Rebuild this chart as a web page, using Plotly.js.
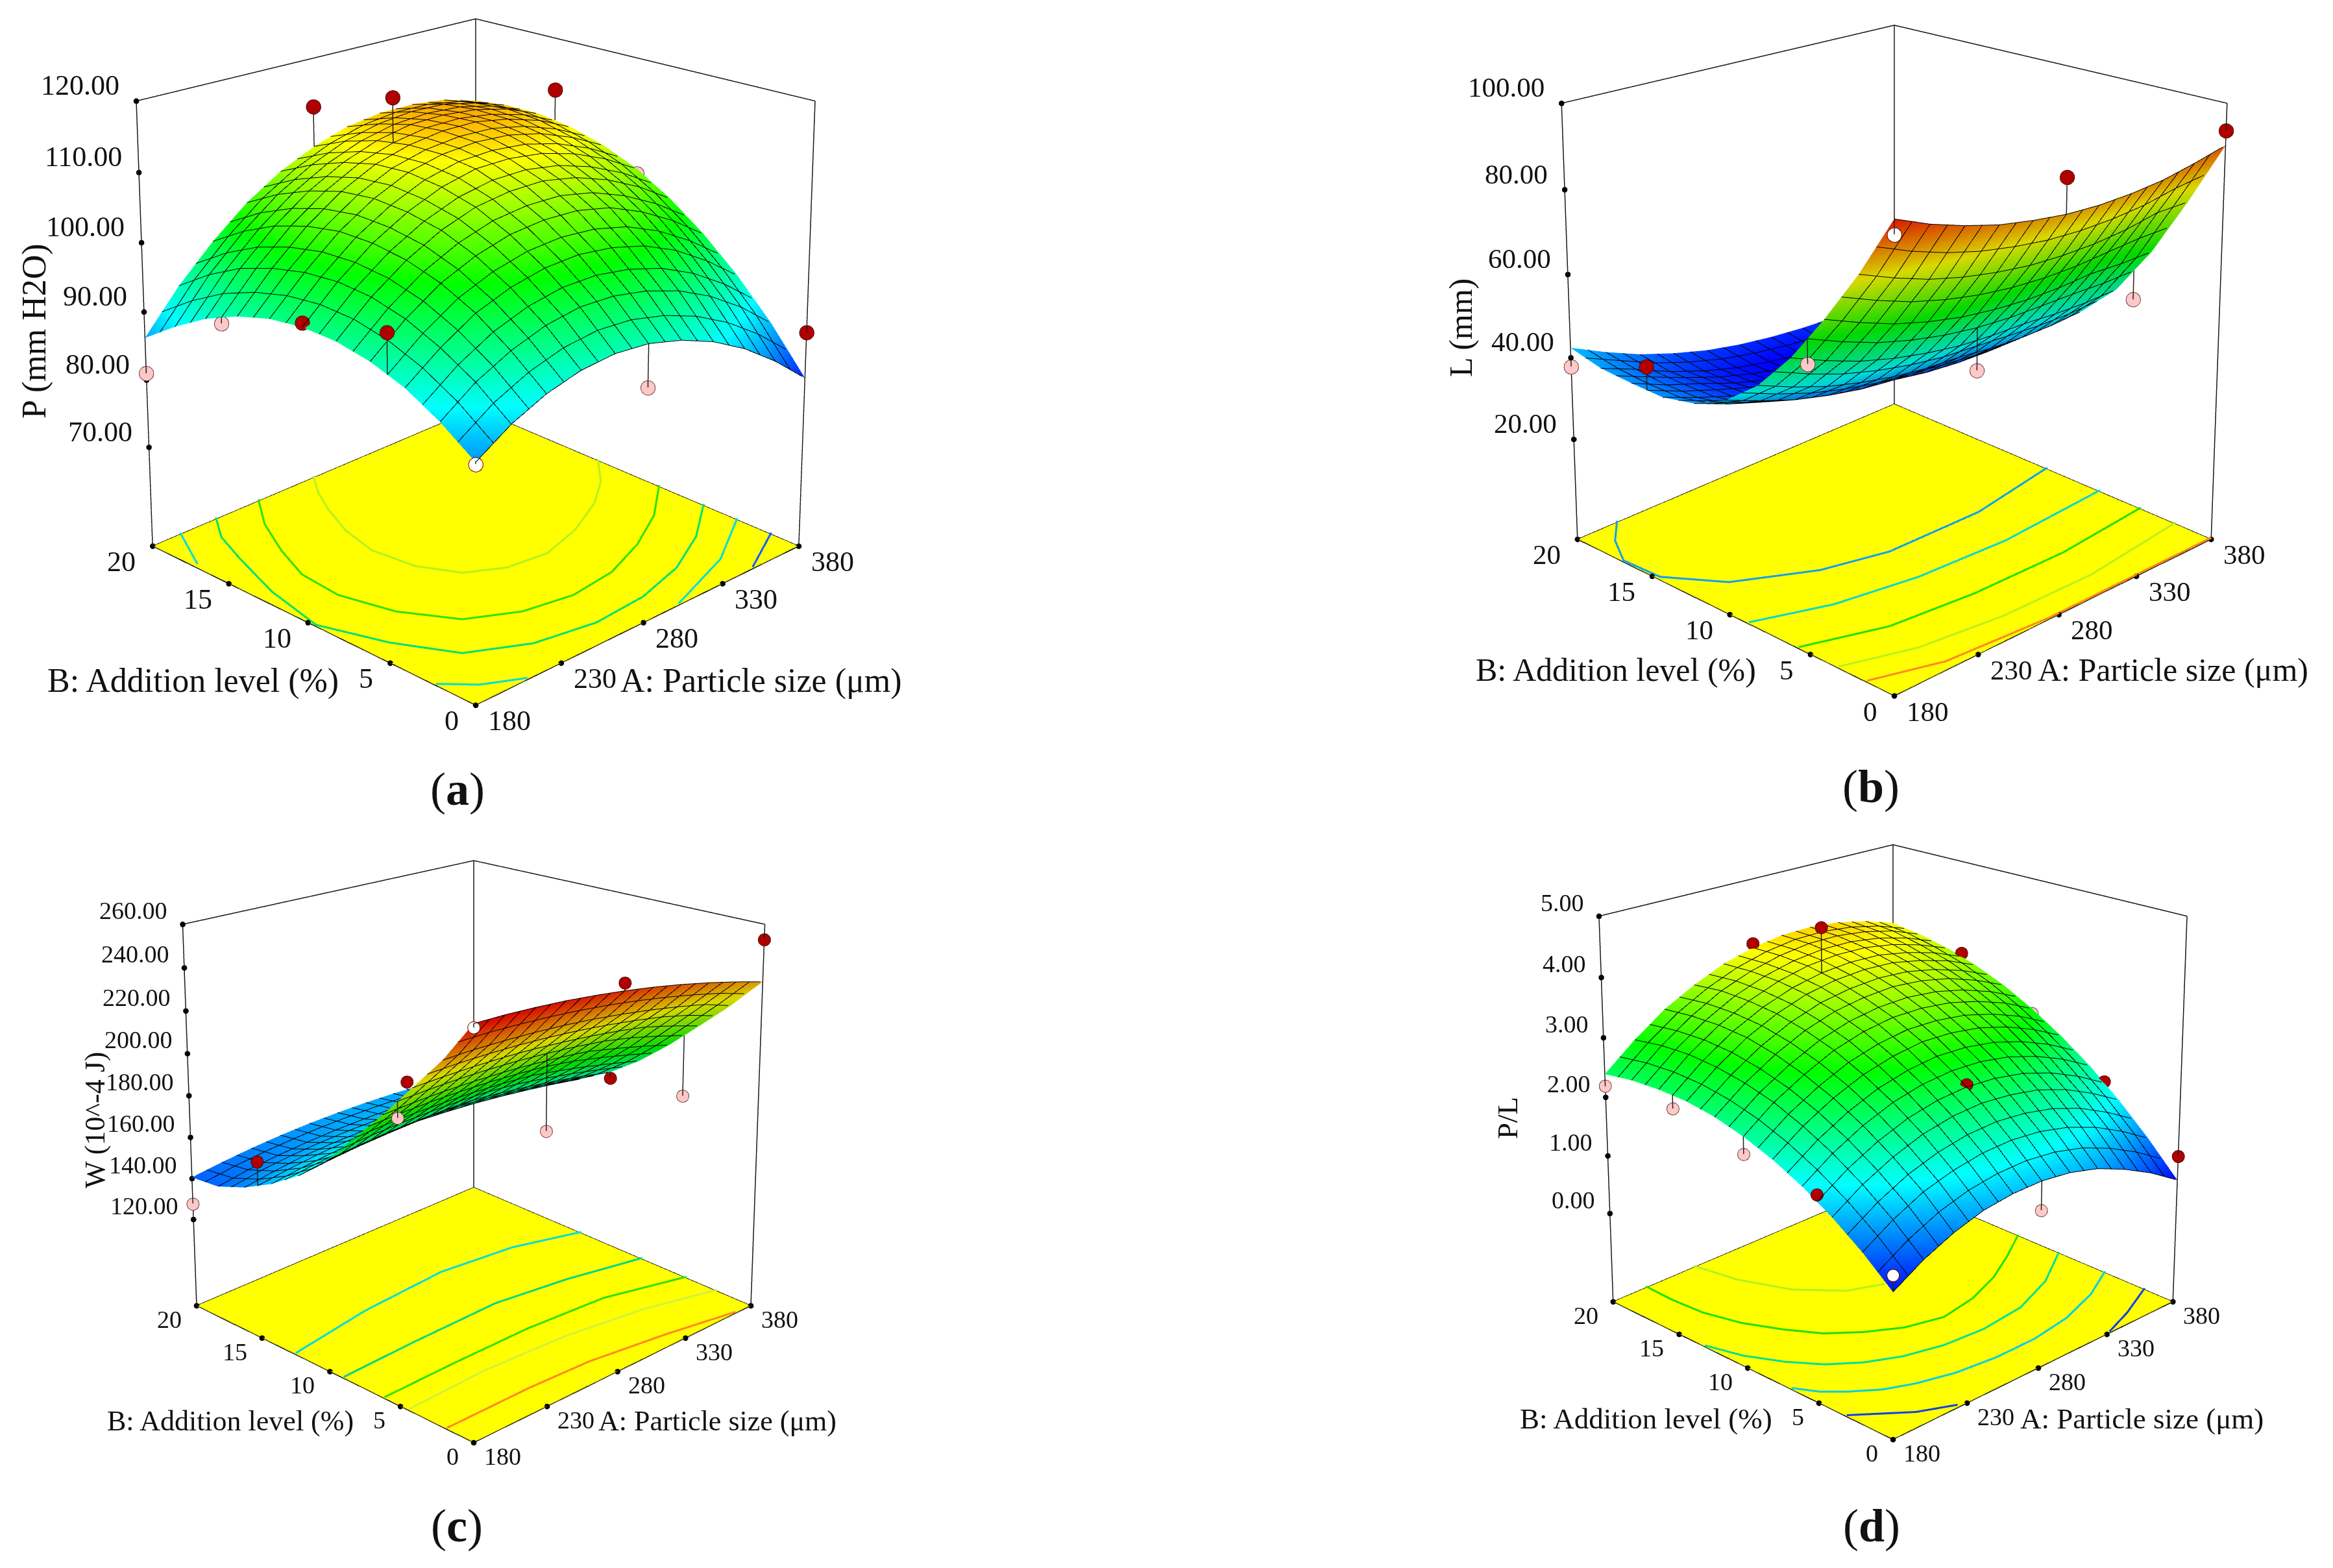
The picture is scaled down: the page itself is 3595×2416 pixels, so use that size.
<!DOCTYPE html>
<html>
<head>
<meta charset="utf-8">
<script src="https://cdn.plot.ly/plotly-3.0.1.min.js"></script>
<style>
html,body{margin:0;padding:0;background:#fff;overflow:hidden;width:3595px;height:2416px}
#chart{position:absolute;left:0;top:-2070px}
</style>
</head>
<body>
<div id="chart"></div>
<script>
// factor levels shared by the four response surfaces
var aValues = [180,200,220,240,260,280,300,320,340,360,380];
var bValues = [0,2,4,6,8,10,12,14,16,18,20];
var aTicks = [180,230,280,330,380];
var bTicks = [0,5,10,15,20];

// (a) P (mm H2O), one row per B level; heights as read through this camera, colour values as read from the shading
var zGridP = [
 [89.2,92.3,94.4,95.6,95.9,95.3,93.8,91.6,88.6,84.8,80.3],
 [92.6,96,98.3,99.8,100.4,100,98.8,96.9,94.2,90.7,86.4],
 [95.2,98.7,101.5,103.1,103.9,103.9,103,101.4,98.9,95.5,91.5],
 [96.8,100.7,103.7,105.6,106.7,106.9,106.4,105,102.6,99.5,95.7],
 [97.6,101.8,105,107.3,108.7,109.1,108.8,107.5,105.4,102.6,99.1],
 [97.6,102,105.5,108,109.7,110.5,110.2,109.2,107.4,104.9,101.7],
 [96.8,101.4,105.3,108.1,110,110.8,110.8,110.1,108.6,106.3,103.4],
 [95.2,100.1,104.2,107.3,109.4,110.4,110.7,110.3,109,107.1,104.4],
 [92.9,98.2,102.4,105.6,107.9,109.3,109.9,109.6,108.7,107.1,104.7],
 [89.8,95.4,99.8,103.3,105.8,107.5,108.3,108.4,107.8,106.3,104.3],
 [86.2,91.9,96.5,100.3,103.1,105,106.2,106.5,106.1,105.1,103.3]
];
var colorGridP = [
 [85.3,88.4,90.7,92.2,92.9,92.8,91.9,90.2,87.7,84.4,80.3],
 [88.7,92.1,94.7,96.6,97.6,97.8,97.2,95.8,93.7,90.7,86.9],
 [91.4,95.1,98.1,100.2,101.5,102.1,101.8,100.8,98.9,96.2,92.8],
 [93.3,97.4,100.7,103.1,104.8,105.6,105.7,105,103.4,101.1,97.9],
 [94.5,98.9,102.5,105.3,107.3,108.4,108.8,108.4,107.2,105.2,102.3],
 [95,99.7,103.6,106.7,109,110.5,111.2,111.1,110.2,108.5,106],
 [94.7,99.7,104,107.4,110,111.8,112.8,113.1,112.5,111.1,108.9],
 [93.7,99,103.6,107.3,110.3,112.4,113.7,114.3,114,113,111.1],
 [91.9,97.6,102.4,106.5,109.8,112.2,113.9,114.7,114.8,114.1,112.5],
 [89.4,95.4,100.6,105,108.5,111.3,113.3,114.5,114.9,114.4,113.2],
 [86.2,92.5,98,102.7,106.6,109.7,112,113.5,114.2,114.1,113.2]
];
var zTicksP = [70,80,90,100,110,120];
var levelsP = [
 {a:[276,266,258,249,244,247,257,274,296,321,346,364,380], b:[20,18.6,17.1,15,12.8,10.4,8.5,7.5,7.2,7.9,9.1,10.4,12.1], color:'#b4f020'},
 {a:[242.5,228,216,207,205,212,227,250,276,303,330,356,380], b:[20,18,15.6,13.3,10.8,8,5.5,4.2,3.7,4,5,6.4,8.3], color:'#30e000'},
 {a:[217,206,198,187,180,191,206,233,265,296,326,354,380], b:[20,18.4,16.3,13,9.5,6.2,3.4,1.9,1.3,1.5,2.3,3.7,5.6], color:'#00e070'},
 {a:[196,181.5], b:[20,17.2], color:'#00dcdc'},
 {a:[180,192,210], b:[2.3,1,0], color:'#00dcdc'},
 {a:[380,345.5,302], b:[3.6,1.5,0], color:'#00dcdc'},
 {a:[380,349.5], b:[1.6,0], color:'#1060ff'}
];
var pointsAP = [180,180,280,280,380,380, 180,180,280,380, 180];
var pointsBP = [5,10,20,15,15,0, 15,20,0,10, 0];
var pointsZP = [101.8,98.2,110.8,116.3,109.1,87, 93.2,81,89.1,101, 88.9];
var surfaceZP = [96,97.6,105,109.9,104.6,80.3, 94.1,86.2,95.3,101.7, 89.2];
var redCountP = 6, pinkCountP = 4;

// (b) L (mm)
var zGridL = [
 [102.8,98.7,95.4,92.6,90.6,89,88.1,87.8,88,89,90.3],
 [87.8,83.9,80.5,77.9,75.9,74.4,73.6,73.3,73.6,74.6,74.2],
 [74.7,70.8,67.3,64.6,62.5,61.1,60.2,59.9,60.1,59.5,59.3],
 [62.8,58.9,55.5,52.9,50.9,49.4,48.6,48.2,47.4,47,47.1],
 [53.2,49.5,46.3,43.9,42,40.7,40.1,39,38.4,38.3,38.7],
 [46.4,42.9,39.8,37.5,35.7,34.6,33.1,32.2,31.8,32,32.4],
 [42.3,38.8,35.9,33.7,32,30.1,28.9,28.1,27.9,28.1,28.6],
 [40.4,37,34,31.7,29.3,27.4,26.2,25.4,25.1,25.2,25.8],
 [40.4,36.7,33.7,30.5,28,26.1,24.7,23.8,23.5,23.5,23.9],
 [40.7,37.2,33.3,30.2,27.7,25.9,24.5,23.6,23.2,23.2,23.5],
 [42.4,38.1,34.3,31.3,28.8,27,25.7,24.8,24.3,24.3,24.5]
];
var colorGridL = [
 [93,90,87.6,85.7,84.5,83.7,83.5,83.9,84.8,86.4,88.4],
 [80,77,74.5,72.6,71.3,70.5,70.3,70.6,71.5,73,75],
 [68.5,65.4,62.7,60.7,59.2,58.3,57.9,58.1,58.8,60.2,62],
 [58,54.8,52.1,50,48.5,47.5,47.1,47.2,47.9,49.2,51],
 [49.5,46.4,43.8,41.8,40.4,39.5,39.2,39.4,40.2,41.6,43.5],
 [43.5,40.5,37.9,36,34.6,33.8,33.5,33.8,34.6,36.1,38],
 [40,37,34.5,32.6,31.3,30.5,30.3,30.6,31.5,33,35],
 [38.5,35.5,32.9,31,29.6,28.8,28.5,28.8,29.6,31,33],
 [38.8,35.6,32.9,30.9,29.4,28.4,28,28.1,28.9,30.2,32],
 [39.5,36.4,33.7,31.7,30.2,29.3,28.9,29.1,29.8,31.2,33],
 [41.5,38.5,35.9,34,32.6,31.8,31.5,31.8,32.6,34.1,36]
];
var zTicksL = [20,40,60,80,100];
var levelsL = [
 {a:[203.5,190,180,181,199,235,269,325,380], b:[20,18.6,16.9,14.6,12.1,10.1,9.2,9.1,10], color:'#10a0f0'},
 {a:[180,217,261,313,380], b:[8.8,7.4,6.6,6.3,6.7], color:'#00d8d0'},
 {a:[180,220,267.5,323,380], b:[5.7,4.3,3.8,3.7,4.2], color:'#20e000'},
 {a:[180,215.5,261.5,316,380], b:[3.3,2.1,1.5,1.4,2.1], color:'#b8f020'},
 {a:[180,215,274,324,380], b:[1.6,0.45,0,0,0], color:'#ff8820'}
];
var pointsAL = [380,280,180, 380,280,180,180, 180];
var pointsBL = [0,0,15, 5,5,5,20, 0];
var pointsZL = [93.7,97.3,46, 46.2,45.1,63,37.8, 99.4];
var surfaceZL = [90.3,89,40.4, 53.2,55.3,68.8,42.4, 102.8];
var redCountL = 3, pinkCountL = 4;

// (c) W (10^-4 J)
var zGridW = [
 [265.7,264.3,262.4,260.2,257.5,254.5,251.1,247.3,243.1,238.5,233.6],
 [244.7,244,242.7,241.1,239.1,236.7,233.8,230.6,227,223,217.4],
 [227.2,226.7,225.9,224.7,223.1,221,218.6,215.8,212.5,207.8,202.7],
 [209.7,209.7,209.3,208.4,207.2,205.5,203.5,201,197.1,192.9,188.3],
 [193.5,193.9,193.8,193.3,192.5,191.2,189.5,186.5,183.1,179.3,175.3],
 [177.4,178.4,178.9,179,178.7,178,176,173.6,170.9,167.8,164.4],
 [164.6,166,167,167.5,167.7,166.6,165.2,163.3,161.1,158.6,155.7],
 [154.9,156.7,158,158.9,158.7,158,157,155.5,153.7,151.5,149],
 [147.4,149.5,151.1,151.7,151.8,151.5,150.8,149.8,148.3,146.5,144.4],
 [142,144.3,145.5,146.3,146.7,146.6,146.2,145.3,144.1,142.6,140.6],
 [140.6,142.2,143.4,144.1,144.4,144.2,143.7,142.8,141.5,139.9,137.9]
];
var colorGridW = [
 [255,254.5,253.6,252.3,250.6,248.5,246,243.1,239.8,236.1,232],
 [236,236,235.6,234.8,233.6,232,230,227.6,224.8,221.6,218],
 [220,220.3,220.2,219.7,218.8,217.5,215.8,213.7,211.2,208.3,205],
 [204,204.6,204.8,204.6,204,203,201.6,199.8,197.6,195,192],
 [189,189.9,190.4,190.5,190.2,189.5,188.4,186.9,185,182.7,180],
 [174,175.4,176.4,177,177.2,177,176.4,175.4,174,172.2,170],
 [162,163.8,165.2,166.2,166.8,167,166.8,166.2,165.2,163.8,162],
 [153,155.1,156.8,158.1,159,159.5,159.6,159.3,158.6,157.5,156],
 [146,148.4,150.4,152,153.2,154,154.4,154.4,154,153.2,152],
 [141,143.6,145.8,147.6,149,150,150.6,150.8,150.6,150,149],
 [140,142.5,144.6,146.3,147.6,148.5,149,149.1,148.8,148.1,147]
];
var zTicksW = [120,140,160,180,200,220,240,260];
var levelsW = [
 {a:[180,236,294,341,380], b:[12.5,13.4,13.8,13.2,11.9], color:'#00dcdc'},
 {a:[180,230.5,288.6,334,380], b:[9,9.2,9.3,8.6,7.5], color:'#00d880'},
 {a:[180,227,280,332,380], b:[6.1,6.2,6.2,5.8,4.4], color:'#30e000'},
 {a:[180,233,287,338,380], b:[4.4,4.6,4.3,3.5,2.3], color:'#d0f040'},
 {a:[180,237,277,325.5,368], b:[1.8,1.8,1.6,0.85,0], color:'#ff8820'}
];
var pointsAW = [380,280,180,330,380, 180,280,180,280,380, 180];
var pointsBW = [0,0,15,20,10, 20,20,5,5,5, 0];
var pointsZW = [253,258,162.6,146,161.4, 127.6,140,211,177,166.2, 264];
var surfaceZW = [233.6,254.5,151.2,142.2,164.4, 140.6,144.2,218.5,213,195.5, 265.7];
var redCountW = 5, pinkCountW = 5;

// (d) P/L
var zGridR = [
 [0.88,1.18,1.4,1.55,1.61,1.61,1.54,1.4,1.18,0.91,0.58],
 [1.3,1.61,1.85,1.99,2.07,2.08,2.02,1.89,1.69,1.42,1.1],
 [1.65,1.97,2.21,2.38,2.47,2.49,2.43,2.32,2.13,1.87,1.56],
 [1.94,2.27,2.52,2.7,2.8,2.83,2.79,2.68,2.5,2.26,1.96],
 [2.17,2.51,2.77,2.96,3.07,3.12,3.08,2.98,2.81,2.58,2.29],
 [2.34,2.7,2.96,3.17,3.29,3.34,3.31,3.22,3.06,2.85,2.57],
 [2.46,2.82,3.1,3.31,3.44,3.49,3.49,3.41,3.27,3.06,2.8],
 [2.52,2.89,3.19,3.4,3.54,3.6,3.6,3.54,3.4,3.22,2.97],
 [2.52,2.91,3.21,3.43,3.58,3.66,3.67,3.62,3.5,3.32,3.09],
 [2.48,2.87,3.18,3.42,3.57,3.66,3.69,3.65,3.55,3.39,3.16],
 [2.39,2.78,3.11,3.34,3.52,3.62,3.66,3.63,3.54,3.39,3.19]
];
var colorGridR = [
 [0.63,0.92,1.15,1.32,1.41,1.44,1.4,1.3,1.12,0.88,0.58],
 [1.03,1.34,1.59,1.76,1.87,1.92,1.9,1.81,1.65,1.42,1.13],
 [1.38,1.71,1.97,2.16,2.29,2.35,2.34,2.27,2.13,1.92,1.64],
 [1.68,2.02,2.3,2.51,2.65,2.73,2.74,2.68,2.55,2.36,2.1],
 [1.93,2.29,2.58,2.81,2.97,3.06,3.08,3.04,2.93,2.75,2.5],
 [2.13,2.51,2.81,3.06,3.23,3.34,3.37,3.35,3.25,3.09,2.86],
 [2.28,2.67,3,3.25,3.44,3.56,3.62,3.61,3.53,3.38,3.17],
 [2.38,2.79,3.13,3.4,3.61,3.74,3.81,3.82,3.75,3.62,3.42],
 [2.43,2.86,3.21,3.5,3.72,3.87,3.96,3.98,3.93,3.81,3.63],
 [2.43,2.87,3.24,3.55,3.78,3.95,4.05,4.09,4.06,3.96,3.79],
 [2.39,2.84,3.23,3.54,3.8,3.98,4.1,4.15,4.13,4.05,3.9]
];
var zTicksR = [0,1,2,3,4,5];
var levelsR = [
 {a:[235,240,252,271,290], b:[20,17.3,14.5,12.4,11.6], color:'#b4f020'},
 {a:[202,201.5,203,209,219,230,245,263,285,310,335,358,380], b:[20,17.9,15.8,13.6,11.6,9.9,8.6,7.5,6.9,7.3,8.2,9.4,10.7], color:'#20e000'},
 {a:[180,186,196,208,223,241,263.5,290,319.5,350,380], b:[13.1,11,9.1,7.5,6.3,5.4,4.8,4.6,4.9,6,7.8], color:'#00e090'},
 {a:[180,187,197,210,225.6,247,272.5,300,328,356,380], b:[6.9,5.7,4.7,3.7,3,2.4,2.1,2.1,2.5,3.4,4.6], color:'#00d0e0'},
 {a:[180,205.5,224.5], b:[3.1,1,0.1], color:'#1040e8'},
 {a:[332,353.6,380], b:[0,0.74,1.9], color:'#1040e8'}
];
var pointsAR = [280,280,380,380,280,180,380, 180,180,180,280,380, 180];
var pointsBR = [15,20,15,5,5,5,0, 15,10,20,0,10, 0];
var pointsZR = [4.39,3.69,3.09,1.78,2.7,1.91,0.99, 2.3,2.05,2.19,1.12,2.49, 1.15];
var surfaceZR = [3.63,3.62,3.03,1.76,2.66,1.8,0.58, 2.52,2.34,2.39,1.61,2.57, 0.88];
var redCountR = 7, pinkCountR = 5;

var pageW = 3595, offsetY = 2070, plotH = 6020;
var rainbow = [[0,'#0000ff'],[0.25,'#00ffff'],[0.5,'#00ff00'],[0.75,'#ffff00'],[1,'#ff0000']];
var serif = 'Liberation Serif, Times New Roman, serif';

var panels = [
 {id:'scene', grid:zGridP, colors:colorGridP, ticks:zTicksP, range:[55,120], topBack:115.6, extra:0, unit:10.4, cmin:79, cmax:122, levels:levelsP, pa:pointsAP, pb:pointsBP, pz:pointsZP, sz:surfaceZP, nr:redCountP, np:pinkCountP,
  cx:733, cy:507, H:5130, W:1400, tick:44, mark:13, off:24, mesh:3,
  ztitle:'P (mm H2O)', letter:'a', zt:[53,510], bt:[297,1049], at:[1173,1049], lt:[705,1216], titleSize:52},
 {id:'scene2', grid:zGridL, colors:colorGridL, ticks:zTicksL, range:[-5,100], topBack:92.1, extra:4, unit:6.31, cmin:29, cmax:95, levels:levelsL, pa:pointsAL, pb:pointsBL, pz:pointsZL, sz:surfaceZL, nr:redCountL, np:pinkCountL,
  cx:2919, cy:503, H:5035, W:1350, tick:43, mark:13, off:24, mesh:3,
  ztitle:'L (mm)', letter:'b', zt:[2251,505], bt:[2490,1032], at:[3348,1032], lt:[2883,1212], titleSize:50},
 {id:'scene3', grid:zGridW, colors:colorGridW, ticks:zTicksW, range:[77,260], topBack:244, extra:7, unit:3.16, cmin:128, cmax:255, levels:levelsW, pa:pointsAW, pb:pointsBW, pz:pointsZW, sz:surfaceZW, nr:redCountW, np:pinkCountW,
  cx:730, cy:1725, H:4404, W:1400, tick:38, mark:11, off:21, mesh:2,
  ztitle:'W (10^-4 J)', letter:'c', zt:[146,1726], bt:[355,2189], at:[1105,2189], lt:[704,2351], titleSize:44},
 {id:'scene4', grid:zGridR, colors:colorGridR, ticks:zTicksR, range:[-1.56,5], topBack:4.56, extra:0, unit:89.8, cmin:0.55, cmax:5.1, levels:levelsR, pa:pointsAR, pb:pointsBR, pz:pointsZR, sz:surfaceZR, nr:redCountR, np:pinkCountR,
  cx:2917, cy:1716, H:4444, W:1350, tick:38, mark:11, off:21, mesh:3,
  ztitle:'P/L', letter:'d', zt:[2323,1723], bt:[2536,2186], at:[3300,2186], lt:[2884,2351], titleSize:45}
];

var data = [];
var layout = {width:pageW, height:plotH, margin:{l:0,r:0,t:0,b:0}, paper_bgcolor:'rgba(0,0,0,0)', plot_bgcolor:'rgba(0,0,0,0)', showlegend:false, annotations:[]};

function pageText(text, xy, size, angle) {
  layout.annotations.push({xref:'paper', yref:'paper', x:xy[0]/pageW, y:1-(xy[1]+offsetY)/plotH, text:text, showarrow:false,
    xanchor:'center', yanchor:'middle', textangle:angle || 0, font:{family:serif, size:size, color:'#111'}});
}

panels.forEach(function(p) {
  var zLo = p.range[0], zHi = p.range[1], pad = (zHi-zLo)*0.005;
  // yellow floor
  data.push({type:'surface', scene:p.id, x:[180,380], y:[0,20], z:[[zLo,zLo],[zLo,zLo]], surfacecolor:[[0,0],[0,0]], cmin:0, cmax:1, showscale:false,
    colorscale:[[0,'#ffff00'],[1,'#ffff00']], lighting:{ambient:1,diffuse:0,specular:0,fresnel:0}});
  // response surface with the mesh
  data.push({type:'surface', scene:p.id, x:aValues, y:bValues, z:p.grid, surfacecolor:p.colors, cmin:p.cmin, cmax:p.cmax, showscale:false, colorscale:rainbow,
    lighting:{ambient:0.85,diffuse:0.25,specular:0,roughness:1,fresnel:0},
    contours:{x:{show:true,start:180,end:380,size:10,color:'#000',width:p.mesh}, y:{show:true,start:0,end:20,size:1,color:'#000',width:p.mesh}}});
  // contour lines on the floor
  p.levels.forEach(function(l) {
    data.push({type:'scatter3d', scene:p.id, mode:'lines', x:l.a, y:l.b, z:l.a.map(function(){return zLo+pad*0.8}), line:{color:l.color,width:6}});
  });
  // box frame
  data.push({type:'scatter3d', scene:p.id, mode:'lines',
    x:[180,380,380,180,180,null,180,180,380,380,380,null,380,380],
    y:[0,0,20,20,0,null,20,20,20,0,0,null,20,20],
    z:[zLo,zLo,zLo,zLo,zLo,null,zLo,zHi,p.topBack,zHi,zLo,null,zLo,p.topBack], line:{color:'#1a1a1a',width:3}});
  // tick dots
  var tx = [], ty = [], tz = [];
  p.ticks.forEach(function(t){tx.push(180);ty.push(20);tz.push(t)});
  bTicks.forEach(function(t){tx.push(180);ty.push(t);tz.push(zLo)});
  aTicks.forEach(function(t){tx.push(t);ty.push(0);tz.push(zLo)});
  data.push({type:'scatter3d', scene:p.id, mode:'markers', x:tx, y:ty, z:tz, marker:{size:5,color:'#000'}});
  // stems from design points to the surface
  var sx = [], sy = [], sz = [];
  p.pa.forEach(function(v,i){
    sx.push(v,v,null); sy.push(p.pb[i],p.pb[i],null); sz.push(p.pz[i],p.sz[i],null);
  });
  data.push({type:'scatter3d', scene:p.id, mode:'lines', x:sx, y:sy, z:sz, line:{color:'#222',width:3}});
  // design points: above the surface, below it, and the minimum point
  var n1 = p.nr, n2 = p.nr+p.np;
  data.push({type:'scatter3d', scene:p.id, mode:'markers', x:p.pa.slice(0,n1), y:p.pb.slice(0,n1), z:p.pz.slice(0,n1), marker:{size:p.mark,color:'#b00000',line:{color:'#500000',width:1}}});
  data.push({type:'scatter3d', scene:p.id, mode:'markers', x:p.pa.slice(n1,n2), y:p.pb.slice(n1,n2), z:p.pz.slice(n1,n2), marker:{size:p.mark,color:'#ffc8c8',line:{color:'#704040',width:1}}});
  data.push({type:'scatter3d', scene:p.id, mode:'markers', x:p.pa.slice(n2), y:p.pb.slice(n2), z:p.pz.slice(n2), marker:{size:p.mark,color:'#ffffff',line:{color:'#700000',width:4}}});

  // tick labels stay real text, anchored on the scene axes
  var f = {family:serif, size:p.tick, color:'#111'}, off = p.off, ann = [];
  p.ticks.forEach(function(t){
    ann.push({x:180,y:20,z:t,text:t.toFixed(2),showarrow:false,xanchor:'right',yanchor:'middle',xshift:-off,yshift:off,font:f});
  });
  bTicks.forEach(function(t){
    ann.push({x:180,y:t,z:zLo,text:String(t),showarrow:false,xanchor:'right',yanchor:'middle',xshift:-off,yshift:-off,font:f});
  });
  aTicks.forEach(function(t){
    ann.push({x:t,y:0,z:zLo,text:String(t),showarrow:false,xanchor:'left',yanchor:'middle',xshift:off-7,yshift:-off,font:f});
  });

  // a surface corner can stand above the top of the box, so the z range gets room for it
  var span = zHi-zLo+2*pad, cy = p.cy-p.extra/2*p.unit;
  layout[p.id] = {
    domain:{x:[(p.cx-p.W/2)/pageW,(p.cx+p.W/2)/pageW], y:[1-(cy+offsetY+p.H/2)/plotH, 1-(cy+offsetY-p.H/2)/plotH]},
    aspectmode:'manual', aspectratio:{x:1,y:1,z:1.04*(span+p.extra)/span},
    camera:{eye:{x:-5.49,y:-5.49,z:3.457}, center:{x:0,y:0,z:0}, up:{x:0,y:0,z:1}},
    // ranges a little wider than the box, so the edges are not clipped
    xaxis:{visible:false,range:[179,381]}, yaxis:{visible:false,range:[-0.1,20.1]}, zaxis:{visible:false,range:[zLo-pad,zHi+pad+p.extra]},
    bgcolor:'rgba(0,0,0,0)', annotations:ann
  };

  pageText(p.ztitle, p.zt, p.titleSize, -90);
  pageText('B: Addition level (%)', p.bt, p.titleSize);
  pageText('A: Particle size (\u03bcm)', p.at, p.titleSize);
  pageText('(<b>'+p.letter+'</b>)', p.lt, 72);
});

Plotly.newPlot('chart', data, layout, {displayModeBar:false, plotGlPixelRatio:1});
</script>
</body>
</html>
